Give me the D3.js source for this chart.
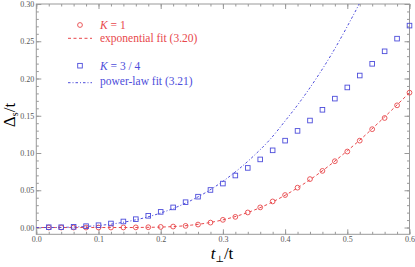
<!DOCTYPE html>
<html>
<head>
<meta charset="utf-8">
<script src="https://cdn.jsdelivr.net/npm/d3@7"></script>
<style>
  body { margin: 0; background: #fff; }
  svg text { font-family: "Liberation Serif", "DejaVu Serif", serif; }
</style>
</head>
<body>
<div id="chart"></div>
<script>
// t_perp / t grid of the computed points
var tPerp = [0.02, 0.04, 0.06, 0.08, 0.10, 0.12, 0.14, 0.16, 0.18, 0.20,
  0.22, 0.24, 0.26, 0.28, 0.30, 0.32, 0.34, 0.36, 0.38, 0.40,
  0.42, 0.44, 0.46, 0.48, 0.50, 0.52, 0.54, 0.56, 0.58, 0.60];

// K = 1 (red circles)
var gapK1 = [0, 0, 0, 0, 0, 0, 0.0001, 0.0002, 0.0004, 0.0008,
  0.0013, 0.0022, 0.0040, 0.0066, 0.0103, 0.0143, 0.0202, 0.0270, 0.0350, 0.0436,
  0.0535, 0.0650, 0.0760, 0.0890, 0.1020, 0.1166, 0.1320, 0.1470, 0.1640, 0.1810];

// K = 3/4 (blue squares)
var gapK34 = [0.0004, 0.0004, 0.0009, 0.0018, 0.0031, 0.0054, 0.0081, 0.0112, 0.0157, 0.0210,
  0.0270, 0.0340, 0.0414, 0.0504, 0.0590, 0.0698, 0.0800, 0.0914, 0.1036, 0.1166,
  0.1297, 0.1436, 0.1580, 0.1730, 0.1880, 0.2040, 0.2197, 0.2365, 0.2535, 0.2710];

// fit curves
var fitT = [0, 0.025, 0.05, 0.075, 0.10, 0.125, 0.15, 0.175, 0.20, 0.225,
  0.25, 0.275, 0.30, 0.325, 0.35, 0.375, 0.40, 0.425, 0.45, 0.475,
  0.50, 0.525, 0.55, 0.575, 0.60];
var expFit = [0, 0, 0, 0, 0, 0, 0, 0.0002, 0.0006, 0.0015,
  0.0033, 0.0061, 0.0103, 0.0160, 0.0233, 0.0324, 0.0433, 0.0559, 0.0700, 0.0858,
  0.1030, 0.1210, 0.1405, 0.1605, 0.1810];
var powFit = [0, 0, 0.0004, 0.0012, 0.0027, 0.0051, 0.0086, 0.0133, 0.0195, 0.0272,
  0.0368, 0.0483, 0.0620, 0.0780, 0.0965, 0.1175, 0.1430, 0.1700, 0.2000, 0.2330,
  0.2700, 0.3100, 0.3560];

var xTicks = [0.0, 0.1, 0.2, 0.3, 0.4, 0.5, 0.6];
var yTicks = [0.00, 0.05, 0.10, 0.15, 0.20, 0.25, 0.30];

var red = "#e8474b",
  blue = "#4d4ddb";

var chartW = 415,
  chartH = 267;

var plotL = 36.3, plotR = 409.5, plotT = 4, plotB = 234.3;

var x = d3.scaleLinear().domain([0, 0.6]).range([plotL, plotR]);
var y = d3.scaleLinear().domain([-0.0091, 0.30]).range([plotB, plotT]);

var svg = d3.select("#chart").append("svg")
  .attr("width", chartW)
  .attr("height", chartH);

svg.append("clipPath").attr("id", "plotclip")
  .append("rect")
  .attr("x", plotL).attr("y", plotT)
  .attr("width", plotR - plotL).attr("height", plotB - plotT);

// frame axes with inward ticks, Mathematica style
var minorX = d3.range(0, 0.6001, 0.02),
  minorY = d3.range(0, 0.3001, 0.01);

function styleAxis(g) {
  g.select(".domain").remove();
  g.selectAll(".tick line").attr("stroke", "#999");
  g.selectAll(".tick text")
    .attr("fill", "#555")
    .style("font-size", "8px")
    .style("font-family", "Liberation Serif");
}

svg.append("g").attr("transform", "translate(0," + plotB + ")")
  .call(d3.axisBottom(x).tickValues(minorX).tickSize(-2.5).tickFormat(""))
  .call(styleAxis);
svg.append("g").attr("transform", "translate(0," + plotB + ")")
  .call(d3.axisBottom(x).tickValues(xTicks).tickSize(-5).tickPadding(2).tickFormat(d3.format(".1f")))
  .call(styleAxis);
svg.append("g").attr("transform", "translate(0," + plotT + ")")
  .call(d3.axisTop(x).tickValues(minorX).tickSize(-2.5).tickFormat(""))
  .call(styleAxis);
svg.append("g").attr("transform", "translate(0," + plotT + ")")
  .call(d3.axisTop(x).tickValues(xTicks).tickSize(-5).tickFormat(""))
  .call(styleAxis);

svg.append("g").attr("transform", "translate(" + plotL + ",0)")
  .call(d3.axisLeft(y).tickValues(minorY).tickSize(-2.5).tickFormat(""))
  .call(styleAxis);
svg.append("g").attr("transform", "translate(" + plotL + ",0)")
  .call(d3.axisLeft(y).tickValues(yTicks).tickSize(-5).tickPadding(2).tickFormat(d3.format(".2f")))
  .call(styleAxis);
svg.append("g").attr("transform", "translate(" + plotR + ",0)")
  .call(d3.axisRight(y).tickValues(minorY).tickSize(-2.5).tickFormat(""))
  .call(styleAxis);
svg.append("g").attr("transform", "translate(" + plotR + ",0)")
  .call(d3.axisRight(y).tickValues(yTicks).tickSize(-5).tickFormat(""))
  .call(styleAxis);

svg.append("rect")
  .attr("x", plotL).attr("y", plotT)
  .attr("width", plotR - plotL).attr("height", plotB - plotT)
  .attr("fill", "none")
  .attr("stroke", "#999")
  .attr("stroke-width", 1);

// fit lines
var line = d3.line()
  .x(function(d) { return x(d[0]); })
  .y(function(d) { return y(d[1]); })
  .curve(d3.curveMonotoneX);

var plot = svg.append("g").attr("clip-path", "url(#plotclip)");

plot.append("path")
  .datum(fitT.map(function(t, i) { return [t, expFit[i]]; }))
  .attr("d", line)
  .attr("fill", "none")
  .attr("stroke", red)
  .attr("stroke-width", 1)
  .attr("stroke-dasharray", "3,2.5");

plot.append("path")
  .datum(powFit.map(function(v, i) { return [fitT[i], v]; }))
  .attr("d", line)
  .attr("fill", "none")
  .attr("stroke", blue)
  .attr("stroke-width", 1)
  .attr("stroke-dasharray", "2.5,2,1,2");

// points
svg.selectAll("circle.k1")
  .data(tPerp)
  .enter()
  .append("circle")
  .attr("class", "k1")
  .attr("cx", function(d) { return x(d); })
  .attr("cy", function(d, i) { return y(gapK1[i]); })
  .attr("r", 2.4)
  .attr("fill", "none")
  .attr("stroke", red)
  .attr("stroke-width", 0.9);

svg.selectAll("rect.k34")
  .data(tPerp)
  .enter()
  .append("rect")
  .attr("class", "k34")
  .attr("x", function(d) { return x(d) - 2.3; })
  .attr("y", function(d, i) { return y(gapK34[i]) - 2.3; })
  .attr("width", 4.6)
  .attr("height", 4.6)
  .attr("fill", "none")
  .attr("stroke", blue)
  .attr("stroke-width", 0.9);

// legend
var legend = svg.append("g");
legend.append("circle")
  .attr("cx", 80).attr("cy", 25).attr("r", 2.4)
  .attr("fill", "none").attr("stroke", red).attr("stroke-width", 0.9);
legend.append("line")
  .attr("x1", 68).attr("x2", 92).attr("y1", 38.3).attr("y2", 38.3)
  .attr("stroke", red).attr("stroke-dasharray", "3,2.5");
legend.append("rect")
  .attr("x", 77.7).attr("y", 63.4).attr("width", 4.6).attr("height", 4.6)
  .attr("fill", "none").attr("stroke", blue).attr("stroke-width", 0.9);
legend.append("line")
  .attr("x1", 68).attr("x2", 92).attr("y1", 82.7).attr("y2", 82.7)
  .attr("stroke", blue).attr("stroke-dasharray", "2.5,2,1,2");

var t1 = legend.append("text").attr("x", 100).attr("y", 28.5)
  .attr("fill", red).style("font-size", "11.5px");
t1.append("tspan").style("font-style", "italic").text("K");
t1.append("tspan").text(" = 1");
legend.append("text").attr("x", 100).attr("y", 41.5)
  .attr("fill", red).style("font-size", "11.5px")
  .text("exponential fit (3.20)");

var t2 = legend.append("text").attr("x", 100).attr("y", 70)
  .attr("fill", blue).style("font-size", "11.5px");
t2.append("tspan").style("font-style", "italic").text("K");
t2.append("tspan").text(" = 3 / 4");
legend.append("text").attr("x", 100).attr("y", 85)
  .attr("fill", blue).style("font-size", "11.5px")
  .text("power-law fit (3.21)");

// axis labels
var yl = svg.append("text")
  .attr("transform", "translate(15,115) rotate(-90)")
  .attr("text-anchor", "middle")
  .style("font-size", "17px");
yl.append("tspan").text("Δ");
yl.append("tspan").attr("baseline-shift", "-3").style("font-size", "10px").text("s");
yl.append("tspan").attr("baseline-shift", "0").text("/t");

var xl = svg.append("text")
  .attr("x", 222).attr("y", 259)
  .attr("text-anchor", "middle")
  .style("font-size", "17px");
xl.append("tspan").style("font-style", "italic").text("t");
xl.append("tspan").attr("baseline-shift", "-2.5").style("font-size", "9px").text("⊥");
xl.append("tspan").attr("baseline-shift", "0").text("/t");
</script>
</body>
</html>
